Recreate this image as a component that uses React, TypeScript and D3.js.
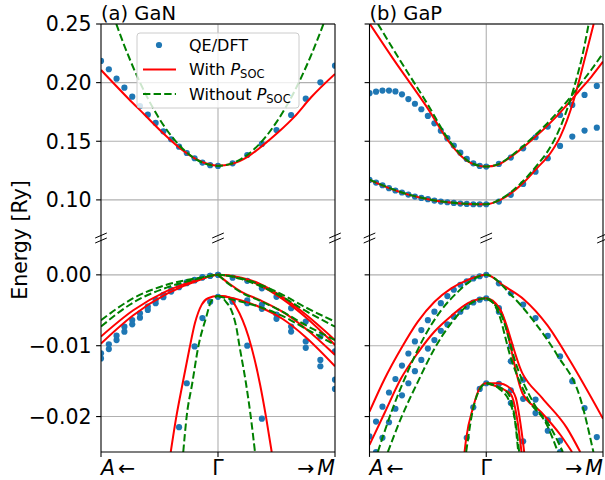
import React from "react";
import * as d3 from "d3";

// ---------------- ticks ----------------
const topTicks = [0.1, 0.15, 0.2, 0.25];
const botTicks = [-0.02, -0.01, 0.0];
const xTicks = [-1, 0, 1];

// ---------------- GaN : k grids ----------------
const ganDotKL = [-1, -0.933, -0.867, -0.8, -0.733, -0.667, -0.6, -0.533, -0.467, -0.4, -0.333, -0.267, -0.2, -0.133, -0.067, 0];
const ganDotKR = [0.125, 0.25, 0.375, 0.5, 0.625, 0.75, 0.875, 1];

// GaN conduction band (top)
const ganCbDotsL = [0.2185, 0.2114, 0.2034, 0.1957, 0.188, 0.18, 0.1727, 0.1656, 0.1585, 0.1517, 0.1454, 0.14, 0.1355, 0.1318, 0.1296, 0.129];
const ganCbDotsR = [0.1312, 0.1383, 0.1477, 0.1596, 0.1724, 0.1863, 0.2003, 0.2145];
const ganCbRedK = [-1, -0.767, -0.625, -0.483, -0.341, -0.2, -0.085, 0, 0.114, 0.256, 0.37, 0.512, 0.654, 0.796, 1.0];
const ganCbRed = [0.2108, 0.1865, 0.1724, 0.1582, 0.1454, 0.1355, 0.1306, 0.1292, 0.1306, 0.1369, 0.1454, 0.1574, 0.171, 0.1875, 0.2074];
const ganCbGreenK = [-0.9, -0.8, -0.7, -0.6, -0.5, -0.4, -0.3, -0.2, -0.1, 0, 0.1, 0.2, 0.3, 0.4, 0.5, 0.6, 0.7, 0.8, 0.9, 1.0];
const ganCbGreen = [0.2586, 0.2314, 0.2074, 0.1866, 0.169, 0.1546, 0.1434, 0.1354, 0.1306, 0.129, 0.1305, 0.135, 0.1424, 0.1528, 0.1663, 0.1826, 0.202, 0.2244, 0.2497, 0.278];

// GaN valence bands (bottom) - dots
const ganVbDotsLA = [-0.01108, -0.00981, -0.00858, -0.00731, -0.00637, -0.00542, -0.00448, -0.00354, -0.00283, -0.00212, -0.00151, -0.00104, -0.00071, -0.00033, -0.00014, 0];
const ganVbDotsLB = [-0.01179, -0.01047, -0.0092, -0.00802, -0.00698, -0.00604, -0.00495, -0.00401, -0.00316, -0.00236, -0.00175, -0.00118, -0.0008, -0.00038, -0.00014, 0];
const ganVbSteepDotsLK = [-0.333, -0.267, -0.2, -0.133, -0.067, 0];
const ganVbSteepDotsL = [-0.0215, -0.0153, -0.0101, -0.0061, -0.0038, -0.0031];
const ganVbDotsRTop = [-0.0004, -0.00085, -0.0019, -0.0031, -0.0047, -0.0066, -0.0087, -0.0108];
const ganVbDotsRMidA = [-0.0036, -0.0036, -0.0042, -0.0056, -0.0073, -0.0094, -0.012, -0.0148];
const ganVbDotsRMidB = [-0.0038, -0.004, -0.0048, -0.0062, -0.008, -0.0103, -0.0129, -0.0161];
const ganVbSteepDotsRK = [0.25, 0.375];
const ganVbSteepDotsR = [-0.01, -0.0203];

// GaN valence bands - lines
const ganVbK = [-1, -0.724, -0.439, -0.154, 0, 0.2, 0.35, 0.55, 0.75, 1];
const ganRed1 = [-0.0087, -0.005, -0.0023, -0.0006, 0, -0.0004, -0.0012, -0.0031, -0.0056, -0.0092];
const ganRed2 = [-0.0097, -0.0057, -0.0027, -0.0007, 0, -0.0005, -0.0014, -0.0034, -0.006, -0.0099];
const ganGreen1 = [-0.0064, -0.0033, -0.0014, -0.0004, 0, -0.0005, -0.0013, -0.0028, -0.0046, -0.0066];
const ganGreen2 = [-0.0073, -0.0039, -0.0018, -0.0005, 0, -0.0006, -0.0015, -0.0031, -0.0051, -0.0073];
const ganRightK = [0, 0.1, 0.2, 0.35, 0.55, 0.75, 1];
const ganRed3 = [0, -0.0013, -0.0024, -0.0035, -0.0052, -0.0076, -0.0113];
const ganRed4 = [-0.003, -0.0032, -0.0036, -0.0045, -0.0062, -0.0088, -0.0129];
const ganGreen3 = [0, -0.0014, -0.0025, -0.0036, -0.0052, -0.0071, -0.0092];
const ganGreen4 = [-0.003, -0.0034, -0.0038, -0.0045, -0.0058, -0.0076, -0.0099];
const ganRedSteepK = [-0.404, -0.359, -0.302, -0.245, -0.197, -0.139, -0.085, 0, 0.03, 0.097, 0.154, 0.26, 0.36, 0.41, 0.459];
const ganRedSteep = [-0.025, -0.0203, -0.0153, -0.0105, -0.0068, -0.0042, -0.0033, -0.003, -0.003, -0.0032, -0.0045, -0.0087, -0.0155, -0.02, -0.025];
const ganGreenSteepK = [-0.297, -0.268, -0.22, -0.168, -0.103, -0.06, 0, 0.068, 0.126, 0.16, 0.18, 0.239, 0.28, 0.316];
const ganGreenSteep = [-0.025, -0.02, -0.0153, -0.0101, -0.0061, -0.0038, -0.003, -0.0038, -0.0055, -0.0077, -0.0097, -0.0153, -0.02, -0.025];

// ---------------- GaP : k grids ----------------
const gapDotKL = [-1, -0.944, -0.889, -0.833, -0.778, -0.722, -0.667, -0.611, -0.556, -0.5, -0.444, -0.389, -0.333, -0.278, -0.222, -0.167, -0.111, -0.056, 0];
const gapDotKR = [0.108, 0.21, 0.316, 0.422, 0.527, 0.632, 0.737, 0.842, 0.947];

// GaP conduction bands (top)
const gapCbUpDotsL = [0.191, 0.1923, 0.1932, 0.1932, 0.1925, 0.19, 0.186, 0.182, 0.1773, 0.1716, 0.1653, 0.159, 0.1526, 0.1463, 0.1403, 0.1349, 0.1312, 0.129, 0.1284];
const gapCbLoDotsL = [0.117, 0.1148, 0.1125, 0.11, 0.108, 0.1063, 0.1045, 0.1028, 0.1017, 0.1006, 0.0994, 0.0986, 0.098, 0.0974, 0.0969, 0.0966, 0.0963, 0.0963, 0.0963];
const gapCbUpDotsR = [0.1307, 0.1361, 0.144, 0.1534, 0.1625, 0.1724, 0.181, 0.1895, 0.1972];
const gapCbLoDotsR = [0.0986, 0.1043, 0.1136, 0.1241, 0.1355, 0.146, 0.154, 0.1591, 0.1616];
const gapRedUpK = [-1, -0.8, -0.511, -0.31, -0.224, -0.138, 0, 0.1, 0.2, 0.3, 0.4, 0.5, 0.6, 0.7, 0.8, 0.9, 1];
const gapRedUp = [0.2505, 0.2207, 0.1795, 0.1483, 0.1383, 0.1318, 0.1284, 0.13, 0.136, 0.1435, 0.152, 0.161, 0.171, 0.182, 0.1935, 0.205, 0.2179];
const gapGreenUpK = [-0.928, -0.741, -0.511, -0.31, -0.224, -0.138, 0, 0.1, 0.2, 0.3, 0.4, 0.5, 0.6, 0.7, 0.8, 0.9, 1];
const gapGreenUp = [0.25, 0.2195, 0.183, 0.1497, 0.1392, 0.132, 0.1284, 0.1303, 0.1365, 0.1445, 0.1535, 0.163, 0.1735, 0.185, 0.198, 0.211, 0.225];
const gapRedLoK = [-1, -0.833, -0.667, -0.5, -0.333, -0.167, 0, 0.12, 0.32, 0.434, 0.549, 0.634, 0.749, 0.834, 0.92];
const gapRedLo = [0.117, 0.11, 0.1045, 0.1006, 0.098, 0.0966, 0.0963, 0.1, 0.1148, 0.127, 0.1398, 0.154, 0.185, 0.2165, 0.25];
const gapGreenLoK = [-1, -0.833, -0.667, -0.5, -0.333, -0.167, 0, 0.12, 0.32, 0.434, 0.549, 0.634, 0.749, 0.834, 0.877];
const gapGreenLo = [0.1173, 0.1103, 0.1047, 0.1007, 0.0981, 0.0967, 0.0963, 0.1005, 0.1165, 0.1295, 0.145, 0.162, 0.195, 0.228, 0.25];

// GaP valence bands (bottom) - dots
const gapVbUpDotsL = [-0.0228, -0.0207, -0.0186, -0.0166, -0.0147, -0.0128, -0.0111, -0.0094, -0.0078, -0.0064, -0.0052, -0.004, -0.003, -0.0021, -0.0014, -0.0009, -0.0005, -0.0002, 0];
const gapVbLoDotsL = [-0.027, -0.025, -0.023, -0.0208, -0.0189, -0.017, -0.0153, -0.0136, -0.012, -0.0104, -0.0092, -0.0079, -0.007, -0.0059, -0.0052, -0.0045, -0.0039, -0.0035, -0.0033];
const gapVbUpDotsR = [-0.0012, -0.0026, -0.0042, -0.0061, -0.0086, -0.0115, -0.015, -0.0188, -0.0229];
const gapVbMidDotsK = [0.108, 0.21, 0.316, 0.422, 0.527, 0.632];
const gapVbMidADotsR = [-0.0047, -0.0101, -0.0148, -0.0176, -0.0205, -0.0234];
const gapVbMidBDotsR = [-0.0052, -0.0122, -0.0175, -0.0195, -0.022, -0.025];
const gapVbLowDotsK = [-0.167, -0.111, -0.056, 0, 0.108, 0.21, 0.21, 0.316];
const gapVbLowDots = [-0.023, -0.0187, -0.0161, -0.0153, -0.0154, -0.0163, -0.0181, -0.0235];

// GaP valence bands - lines
const gapRedTopK = [-1, -0.871, -0.729, -0.586, -0.443, -0.3, -0.157, 0, 0.155, 0.325, 0.523, 0.72, 1];
const gapRedTop = [-0.0193, -0.0147, -0.0104, -0.0066, -0.0038, -0.0019, -0.0007, 0, -0.0016, -0.0035, -0.0071, -0.0122, -0.0203];
const gapGreenTopK = [-0.929, -0.8, -0.671, -0.529, -0.386, -0.243, -0.129, 0, 0.212, 0.41, 0.607, 0.805, 0.918];
const gapGreenTop = [-0.025, -0.0188, -0.0136, -0.0087, -0.005, -0.0024, -0.0008, 0, -0.0028, -0.0066, -0.0113, -0.0174, -0.025];
const gapRedMid1K = [-1, -0.871, -0.729, -0.586, -0.443, -0.3, -0.157, 0, 0.113, 0.31, 0.48, 0.69, 0.805];
const gapRedMid1 = [-0.024, -0.0195, -0.0146, -0.011, -0.008, -0.0058, -0.004, -0.0033, -0.0047, -0.0139, -0.0174, -0.0216, -0.025];
const gapRedMid2K = [0, 0.127, 0.31, 0.466, 0.636, 0.735];
const gapRedMid2 = [-0.0033, -0.0052, -0.0167, -0.0193, -0.0226, -0.025];
const gapGreenMid1K = [-0.843, -0.729, -0.586, -0.443, -0.3, -0.157, 0, 0.1, 0.212, 0.353, 0.52, 0.614];
const gapGreenMid1 = [-0.025, -0.0202, -0.0151, -0.0104, -0.0068, -0.0043, -0.0033, -0.0052, -0.0118, -0.0174, -0.0212, -0.025];
const gapGreenMid2K = [0, 0.127, 0.268, 0.42, 0.56, 0.656];
const gapGreenMid2 = [-0.0033, -0.0056, -0.0132, -0.0185, -0.0218, -0.025];
const gapRedLowK = [-0.186, -0.172, -0.114, -0.057, 0, 0.1, 0.198, 0.254, 0.282, 0.31, 0.325];
const gapRedLow = [-0.025, -0.0231, -0.0188, -0.016, -0.0153, -0.0153, -0.0159, -0.0174, -0.0198, -0.023, -0.025];
const gapRedLow2K = [0, 0.127, 0.212, 0.268, 0.302];
const gapRedLow2 = [-0.0153, -0.016, -0.0169, -0.0207, -0.025];
const gapGreenLowK = [-0.172, -0.114, -0.057, 0, 0.113, 0.212, 0.254, 0.282];
const gapGreenLow = [-0.025, -0.019, -0.0162, -0.0153, -0.0161, -0.0184, -0.0212, -0.025];
const gapGreenLow2K = [0, 0.1, 0.184, 0.24, 0.274];
const gapGreenLow2 = [-0.0153, -0.0158, -0.0167, -0.0198, -0.025];

// ---------------- layout ----------------
const W = 605;
const H = 480;
const PANEL_X: [number, number][] = [[101, 335], [369.5, 603]];
const TOP_Y = 24;
const BREAK_Y = 238;
const BOTTOM_Y = 452;
const TOP_DOMAIN = [0.0675, 0.25];
const BOT_DOMAIN = [-0.025, 0.0052];

const FONT = "DejaVu Sans, sans-serif";
const RED = "#ff0000";
const GREEN = "#008000";
const BLUE = "#1f77b4";
const GRID = "#b0b0b0";

type Series = { x: number[]; y: number[] };
const S = (x: number[], y: number[]): Series => ({ x, y });

type PanelData = {
  title: string;
  topDots: Series[];
  topRed: Series[];
  topGreen: Series[];
  botDots: Series[];
  botRed: Series[];
  botGreen: Series[];
};

const ganData: PanelData = {
  title: "(a) GaN",
  topDots: [S(ganDotKL, ganCbDotsL), S(ganDotKR, ganCbDotsR)],
  topRed: [S(ganCbRedK, ganCbRed)],
  topGreen: [S(ganCbGreenK, ganCbGreen)],
  botDots: [
    S(ganDotKL, ganVbDotsLA),
    S(ganDotKL, ganVbDotsLB),
    S(ganVbSteepDotsLK, ganVbSteepDotsL),
    S(ganDotKR, ganVbDotsRTop),
    S(ganDotKR, ganVbDotsRMidA),
    S(ganDotKR, ganVbDotsRMidB),
    S(ganVbSteepDotsRK, ganVbSteepDotsR),
  ],
  botRed: [S(ganVbK, ganRed1), S(ganVbK, ganRed2), S(ganRightK, ganRed3), S(ganRightK, ganRed4), S(ganRedSteepK, ganRedSteep)],
  botGreen: [S(ganVbK, ganGreen1), S(ganVbK, ganGreen2), S(ganRightK, ganGreen3), S(ganRightK, ganGreen4), S(ganGreenSteepK, ganGreenSteep)],
};

const gapData: PanelData = {
  title: "(b) GaP",
  topDots: [S(gapDotKL, gapCbUpDotsL), S(gapDotKL, gapCbLoDotsL), S(gapDotKR, gapCbUpDotsR), S(gapDotKR, gapCbLoDotsR)],
  topRed: [S(gapRedUpK, gapRedUp), S(gapRedLoK, gapRedLo)],
  topGreen: [S(gapGreenUpK, gapGreenUp), S(gapGreenLoK, gapGreenLo)],
  botDots: [
    S(gapDotKL, gapVbUpDotsL),
    S(gapDotKL, gapVbLoDotsL),
    S(gapDotKR, gapVbUpDotsR),
    S(gapVbMidDotsK, gapVbMidADotsR),
    S(gapVbMidDotsK, gapVbMidBDotsR),
    S(gapVbLowDotsK, gapVbLowDots),
  ],
  botRed: [S(gapRedTopK, gapRedTop), S(gapRedMid1K, gapRedMid1), S(gapRedMid2K, gapRedMid2), S(gapRedLowK, gapRedLow), S(gapRedLow2K, gapRedLow2)],
  botGreen: [S(gapGreenTopK, gapGreenTop), S(gapGreenMid1K, gapGreenMid1), S(gapGreenMid2K, gapGreenMid2), S(gapGreenLowK, gapGreenLow), S(gapGreenLow2K, gapGreenLow2)],
};

const fmt = d3.format(".2f");

function Panel({ idx, data, xr, showLabels }: { idx: number; data: PanelData; xr: [number, number]; showLabels: boolean }) {
  const x = d3.scaleLinear().domain([-1, 1]).range(xr);
  const yT = d3.scaleLinear().domain(TOP_DOMAIN).range([BREAK_Y, TOP_Y]);
  const yB = d3.scaleLinear().domain(BOT_DOMAIN).range([BOTTOM_Y, BREAK_Y]);
  const path = (s: Series, y: d3.ScaleLinear<number, number>) =>
    d3
      .line<[number, number]>()
      .x((d) => x(d[0]))
      .y((d) => y(d[1]))
      .curve(d3.curveMonotoneX)(s.x.map((v, i) => [v, s.y[i]] as [number, number])) || "";
  const [x0, x1] = xr;
  const xg = x(0);
  const cT = `clipT${idx}`;
  const cB = `clipB${idx}`;

  const drawPart = (dots: Series[], red: Series[], green: Series[], y: d3.ScaleLinear<number, number>, clip: string) => (
    <g clipPath={`url(#${clip})`}>
      {dots.map((s, i) => (
        <g key={"d" + i}>
          {s.x.map((v, j) => (
            <circle key={j} cx={x(v)} cy={y(s.y[j])} r={3.1} fill={BLUE} />
          ))}
        </g>
      ))}
      {red.map((s, i) => (
        <path key={"r" + i} d={path(s, y)} fill="none" stroke={RED} strokeWidth={2} strokeLinejoin="round" />
      ))}
      {green.map((s, i) => (
        <path key={"g" + i} d={path(s, y)} fill="none" stroke={GREEN} strokeWidth={2} strokeDasharray="7.4,3.2" />
      ))}
    </g>
  );

  const breakMarks = [x0, xg, x1].map((bx, i) => (
    <g key={"b" + i} stroke="#000" strokeWidth={1}>
      <line x1={bx - 5.8} y1={BREAK_Y + 0} x2={bx + 5.8} y2={BREAK_Y - 5} />
      <line x1={bx - 5.8} y1={BREAK_Y + 5} x2={bx + 5.8} y2={BREAK_Y} />
    </g>
  ));

  return (
    <g>
      <defs>
        <clipPath id={cT}>
          <rect x={x0} y={TOP_Y} width={x1 - x0} height={BREAK_Y - TOP_Y} />
        </clipPath>
        <clipPath id={cB}>
          <rect x={x0} y={BREAK_Y} width={x1 - x0} height={BOTTOM_Y - BREAK_Y} />
        </clipPath>
      </defs>
      {/* grid */}
      <g stroke={GRID} strokeWidth={1.1}>
        {topTicks.map((t) => (
          <line key={"gt" + t} x1={x0} x2={x1} y1={yT(t)} y2={yT(t)} />
        ))}
        {botTicks.map((t) => (
          <line key={"gb" + t} x1={x0} x2={x1} y1={yB(t)} y2={yB(t)} />
        ))}
        <line x1={xg} x2={xg} y1={TOP_Y} y2={BOTTOM_Y} />
      </g>
      {drawPart(data.topDots, data.topRed, data.topGreen, yT, cT)}
      {drawPart(data.botDots, data.botRed, data.botGreen, yB, cB)}
      {/* spines */}
      <g stroke="#000" strokeWidth={1.1} fill="none">
        <line x1={x0} x2={x0} y1={TOP_Y} y2={BOTTOM_Y} />
        <line x1={x1} x2={x1} y1={TOP_Y} y2={BOTTOM_Y} />
        <line x1={x0} x2={x1} y1={TOP_Y} y2={TOP_Y} />
        <line x1={x0} x2={x1} y1={BOTTOM_Y} y2={BOTTOM_Y} />
      </g>
      {/* y ticks */}
      <g stroke="#000" strokeWidth={1.1}>
        {topTicks.map((t) => (
          <line key={"tt" + t} x1={x0 - 4.9} x2={x0} y1={yT(t)} y2={yT(t)} />
        ))}
        {botTicks.map((t) => (
          <line key={"tb" + t} x1={x0 - 4.9} x2={x0} y1={yB(t)} y2={yB(t)} />
        ))}
        {xTicks.map((t) => (
          <line key={"xt" + t} x1={x(t)} x2={x(t)} y1={BOTTOM_Y} y2={BOTTOM_Y + 4.9} />
        ))}
      </g>
      {showLabels && (
        <g fontFamily={FONT} fontSize={20.5} textAnchor="end" fill="#000">
          {topTicks.map((t) => (
            <text key={"lt" + t} x={x0 - 9.5} y={yT(t)} dy="0.36em">
              {fmt(t)}
            </text>
          ))}
          {botTicks.map((t) => (
            <text key={"lb" + t} x={x0 - 9.5} y={yB(t)} dy="0.36em">
              {fmt(t)}
            </text>
          ))}
        </g>
      )}
      {breakMarks}
      {/* x tick labels */}
      <g fontFamily={FONT} fontSize={20.5} fill="#000">
        <text x={x(-1)} y={475} textAnchor="start">
          <tspan fontStyle="italic">A</tspan>
          <tspan dx={3}>←</tspan>
        </text>
        <text x={xg} y={475} textAnchor="middle">
          Γ
        </text>
        <text x={x(1)} y={475} textAnchor="end">
          <tspan>→</tspan>
          <tspan dx={3} fontStyle="italic">M</tspan>
        </text>
      </g>
      <text x={x0} y={19.5} fontFamily={FONT} fontSize={19.5} fill="#000">
        {data.title}
      </text>
    </g>
  );
}

function Legend() {
  const lx = 137;
  const ly = 33;
  const rows = [45, 69.5, 94];
  return (
    <g fontFamily={FONT} fontSize={16}>
      <rect x={lx} y={ly} width={162} height={75} rx={3} fill="#fff" fillOpacity={0.8} stroke="#cccccc" strokeWidth={1} />
      <circle cx={159} cy={rows[0]} r={3.1} fill={BLUE} />
      <line x1={143} x2={176} y1={rows[1]} y2={rows[1]} stroke={RED} strokeWidth={2} />
      <line x1={143} x2={176} y1={rows[2]} y2={rows[2]} stroke={GREEN} strokeWidth={2} strokeDasharray="7.4,3.2" />
      <text x={189} y={rows[0] + 5.8}>QE/DFT</text>
      <text x={189} y={rows[1] + 5.8}>
        With <tspan fontStyle="italic">P</tspan>
        <tspan fontSize={11.5} dy={3}>SOC</tspan>
      </text>
      <text x={189} y={rows[2] + 5.8}>
        Without <tspan fontStyle="italic">P</tspan>
        <tspan fontSize={11.5} dy={3}>SOC</tspan>
      </text>
    </g>
  );
}

export default function App() {
  return (
    <svg width={W} height={H} style={{ position: "absolute", left: 0, top: 0 }} xmlns="http://www.w3.org/2000/svg">
      <rect width={W} height={H} fill="#fff" />
      <Panel idx={0} data={ganData} xr={PANEL_X[0]} showLabels={true} />
      <Panel idx={1} data={gapData} xr={PANEL_X[1]} showLabels={false} />
      <Legend />
      <text transform="translate(27,240) rotate(-90)" textAnchor="middle" fontFamily={FONT} fontSize={20.5} fill="#000">
        Energy [Ry]
      </text>
    </svg>
  );
}
